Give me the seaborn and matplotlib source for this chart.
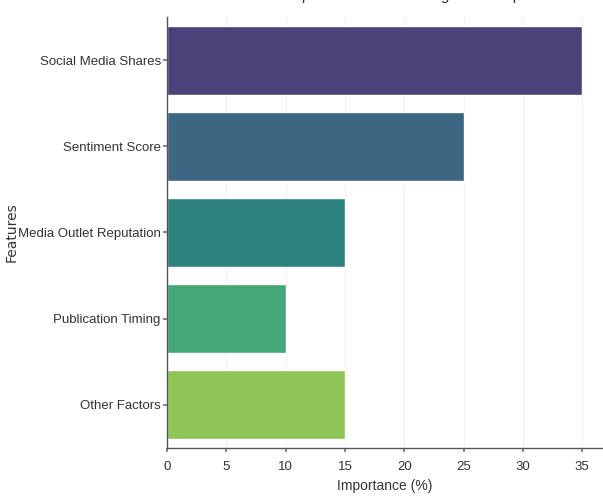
import matplotlib
matplotlib.use("Agg")
import matplotlib.pyplot as plt
import seaborn as sns
import pandas as pd

features = ["Social Media Shares", "Sentiment Score", "Media Outlet Reputation",
            "Publication Timing", "Other Factors"]
importance = [35, 25, 15, 10, 15]
x_ticks = [0, 5, 10, 15, 20, 25, 30, 35]

df = pd.DataFrame({"Features": features, "Importance (%)": importance})

sns.set_theme(style="whitegrid")
plt.rcParams["font.family"] = ["Liberation Sans", "DejaVu Sans"]

fig = plt.figure(figsize=(6.03, 4.98), dpi=100)
ax = fig.add_axes([0.277, 0.1004, 0.723, 0.8655])

sns.barplot(data=df, x="Importance (%)", y="Features", hue="Features",
            palette="viridis", legend=False, ax=ax)

ax.set_xticks(x_ticks)
ax.set_xlim(0, 36.75)
ax.grid(axis="x", color="#f2f2f2", linewidth=0.8)
ax.grid(axis="y", visible=False)
for side in ["top", "right"]:
    ax.spines[side].set_visible(False)
for side in ["left", "bottom"]:
    ax.spines[side].set_visible(True)
    ax.spines[side].set_color("#555555")
    ax.spines[side].set_linewidth(1.0)
ax.tick_params(axis="both", which="major", length=3, color="#777777",
               labelsize=9.5, labelcolor="#333333", bottom=True, left=True)
ax.tick_params(axis="y", pad=1.5)
ax.tick_params(axis="x", pad=6)
ax.set_xlabel("Importance (%)", fontsize=10, color="#333333", labelpad=5)
ax.set_ylabel("Features", fontsize=10, color="#333333", family="DejaVu Sans")
ax.yaxis.set_label_coords(-0.340, 0.5)
ax.set_title("Feature Importance in Predicting News Impact", fontsize=11,
             color="#333333", pad=12)

fig.savefig("out.png", dpi=100)
